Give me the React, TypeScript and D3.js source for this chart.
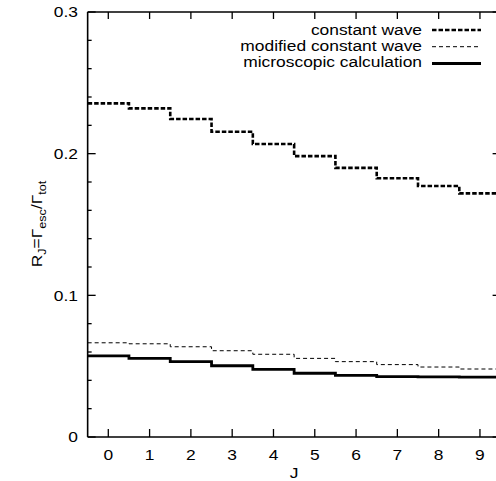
import React from "react";
import * as d3 from "d3";

const J = [0, 1, 2, 3, 4, 5, 6, 7, 8, 9];
const constantWave = [0.2355, 0.232, 0.2245, 0.2155, 0.2068, 0.1983, 0.19, 0.1826, 0.1772, 0.172];
const modifiedWave = [0.0665, 0.0658, 0.0637, 0.0609, 0.0584, 0.0555, 0.0532, 0.0511, 0.0494, 0.048];
const microscopic = [0.0572, 0.0555, 0.0532, 0.0503, 0.0478, 0.045, 0.0435, 0.0426, 0.0424, 0.0423];
const yMajor = [0, 0.1, 0.2, 0.3];
const legendLabels = ["constant wave", "modified constant wave", "microscopic calculation"];

const W = 496;
const H = 481;
const FONT = "'Liberation Sans', Arial, Helvetica, sans-serif";
const SX = 1.2;

export default function App() {
  const x = d3.scaleLinear().domain([-0.5, 9.5]).range([87.65, 500.6]);
  const y = d3.scaleLinear().domain([0, 0.3]).range([437, 12]);

  const stepPath = (vals: number[]) => {
    const pts: [number, number][] = J.map((j, i) => [j - 0.5, vals[i]]);
    pts.push([J[J.length - 1] + 0.5, vals[vals.length - 1]]);
    return d3
      .line<[number, number]>()
      .x((d) => x(d[0]))
      .y((d) => y(d[1]))
      .curve(d3.curveStepAfter)(pts) as string;
  };

  const minor = d3.range(0, 0.3001, 0.02).filter((v) => !yMajor.some((m) => Math.abs(m - v) < 1e-6));
  const styles = [
    { sw: 2.6, dash: "4.5,2" },
    { sw: 1, dash: "4,3" },
    { sw: 2.8, dash: "none" },
  ];
  const series = [constantWave, modifiedWave, microscopic];
  const legendY = [30, 46.7, 63.5];
  const legendBase = [35, 51, 66.5];

  const x0 = x(-0.5);
  const x1 = x(9.5);
  const y0 = y(0);
  const y1 = y(0.3);

  return (
    <svg
      width={W}
      height={H}
      style={{ position: "absolute", left: 0, top: 0, background: "#fff" }}
      fontFamily={FONT}
    >
      <rect x={0} y={0} width={W} height={H} fill="#fff" />
      {/* frame */}
      <g stroke="#000" strokeWidth={1.6} fill="none">
        <line x1={x0} y1={y0} x2={x1} y2={y0} />
        <line x1={x0} y1={y0} x2={x0} y2={y1} />
        <line x1={x0} y1={y1} x2={x1} y2={y1} />
        <line x1={x1} y1={y0} x2={x1} y2={y1} />
      </g>
      {/* x ticks */}
      <g stroke="#000" strokeWidth={1.3}>
        {J.map((j) => (
          <g key={j}>
            <line x1={x(j)} x2={x(j)} y1={y0} y2={y0 - 8} />
            <line x1={x(j)} x2={x(j)} y1={y1} y2={y1 + 7} />
          </g>
        ))}
        {yMajor.map((v) => (
          <g key={v}>
            <line x1={x0} x2={x0 + 8} y1={y(v)} y2={y(v)} />
            <line x1={x1} x2={x1 - 8} y1={y(v)} y2={y(v)} />
          </g>
        ))}
        {minor.map((v) => (
          <g key={v}>
            <line x1={x0} x2={x0 + 4} y1={y(v)} y2={y(v)} />
            <line x1={x1} x2={x1 - 4} y1={y(v)} y2={y(v)} />
          </g>
        ))}
      </g>
      {/* tick labels */}
      <g fontSize={14.5} fill="#000">
        {J.map((j) => (
          <text key={j} transform={`translate(${x(j)},460) scale(${SX},1)`} textAnchor="middle">
            {String(j)}
          </text>
        ))}
        {yMajor.map((v) => (
          <text
            key={v}
            transform={`translate(78,${y(v)}) scale(${SX},1)`}
            textAnchor="end"
            dy="0.36em"
          >
            {v === 0 ? "0" : d3.format(".1f")(v)}
          </text>
        ))}
      </g>
      {/* axis labels */}
      <text
        fontSize={14.5}
        transform={`translate(294,478) scale(${SX},1)`}
        textAnchor="middle"
      >
        J
      </text>
      <text
        fontSize={14.5}
        transform={`translate(42,224) rotate(-90) scale(${SX},1)`}
        textAnchor="middle"
      >
        R<tspan dy="4" fontSize={10.5}>J</tspan>
        <tspan dy="-4">=Γ</tspan>
        <tspan dy="4" fontSize={10.5}>esc</tspan>
        <tspan dy="-4">/Γ</tspan>
        <tspan dy="4" fontSize={10.5}>tot</tspan>
      </text>
      {/* series */}
      {series.map((s, i) => (
        <path
          key={i}
          d={stepPath(s)}
          fill="none"
          stroke="#000"
          strokeWidth={styles[i].sw}
          strokeDasharray={styles[i].dash}
        />
      ))}
      {/* legend */}
      {legendLabels.map((lab, i) => (
        <g key={lab}>
          <text
            fontSize={14.5}
            transform={`translate(422,${legendBase[i]}) scale(${SX},1)`}
            textAnchor="end"
          >
            {lab}
          </text>
          <line
            x1={432}
            x2={481}
            y1={legendY[i]}
            y2={legendY[i]}
            stroke="#000"
            strokeWidth={styles[i].sw}
            strokeDasharray={styles[i].dash}
          />
        </g>
      ))}
    </svg>
  );
}
